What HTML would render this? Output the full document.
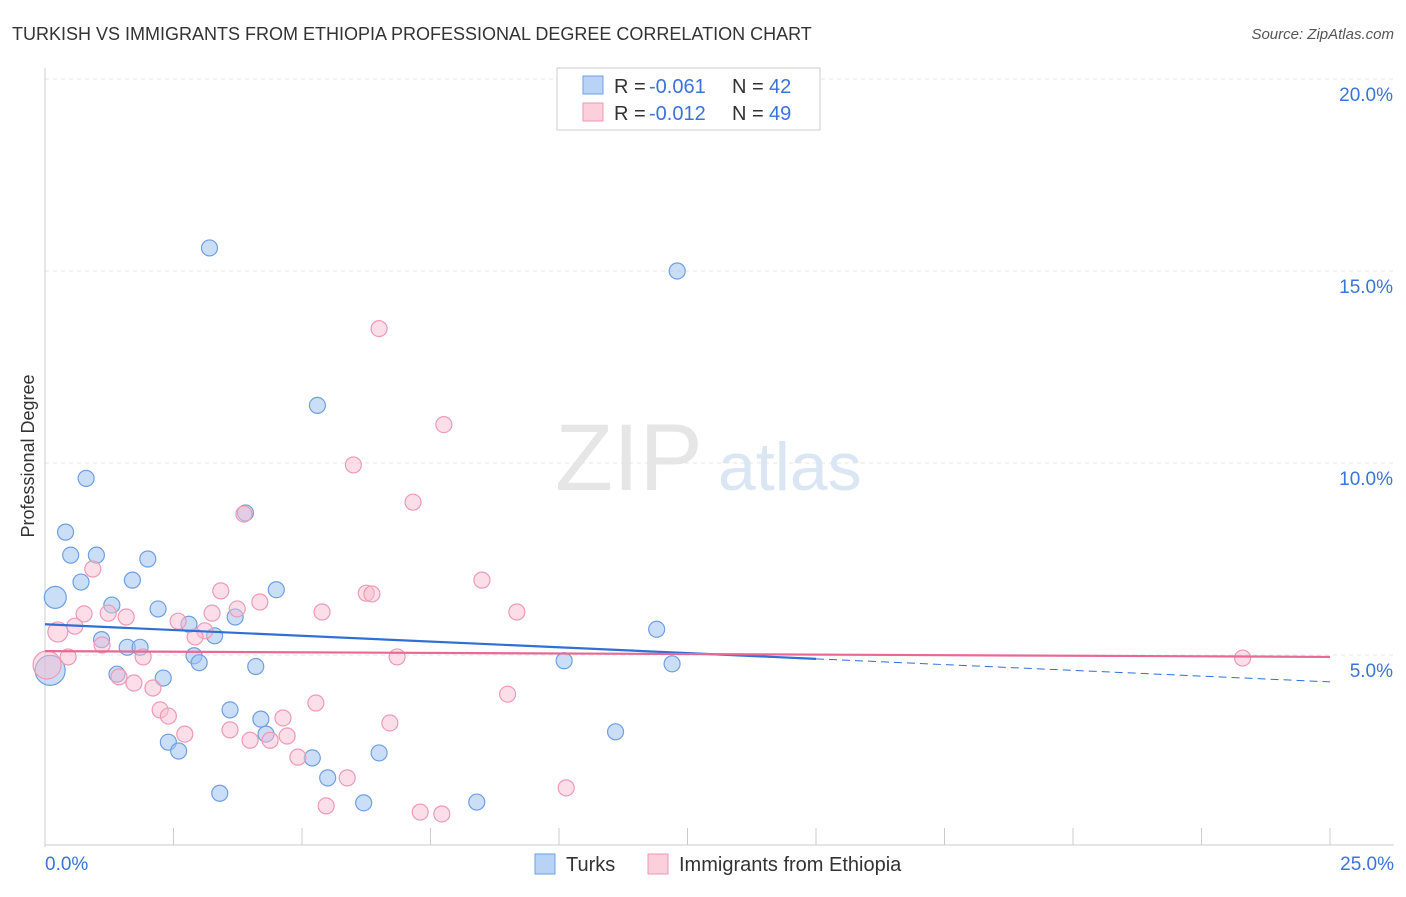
<!DOCTYPE html>
<html><head><meta charset="utf-8"><style>
body{margin:0;background:#fff;font-family:"Liberation Sans",sans-serif}
svg text{font-family:"Liberation Sans",sans-serif}
</style></head><body>
<svg id="c" width="1406" height="892">
<text x="12" y="40" font-size="18" fill="#333">TURKISH VS IMMIGRANTS FROM ETHIOPIA PROFESSIONAL DEGREE CORRELATION CHART</text>
<text x="1394" y="39" font-size="15" fill="#555" text-anchor="end" font-style="italic">Source: ZipAtlas.com</text>
<text x="34" y="456" font-size="18" fill="#333" text-anchor="middle" transform="rotate(-90 34 456)">Professional Degree</text>
<text x="555" y="490" font-size="95" fill="#e6e6e6" font-family="Liberation Serif">ZIP</text>
<text x="718" y="490" font-size="68" fill="#dbe6f5">atlas</text>
<g id="grid"></g><g id="pts"></g><g id="lines"></g>
<g>
<rect x="557" y="68" width="263" height="62" fill="#fff" stroke="#ccc"/>
<rect x="583" y="76" width="20" height="18" fill="#b9d3f7" stroke="#6f9fe0"/>
<rect x="583" y="103" width="20" height="18" fill="#fbcfdc" stroke="#ee9ab5"/>
<text x="614" y="93" font-size="20" fill="#333">R =</text>
<text x="649" y="93" font-size="20" fill="#3a74d6">-0.061</text>
<text x="732" y="93" font-size="20" fill="#333">N =</text>
<text x="769" y="93" font-size="20" fill="#3a74d6">42</text>
<text x="614" y="120" font-size="20" fill="#333">R =</text>
<text x="649" y="120" font-size="20" fill="#3a74d6">-0.012</text>
<text x="732" y="120" font-size="20" fill="#333">N =</text>
<text x="769" y="120" font-size="20" fill="#3a74d6">49</text>
</g>
<g>
<rect x="535" y="854" width="20" height="20" fill="#b9d3f7" stroke="#6f9fe0"/>
<text x="566" y="871" font-size="20" fill="#333">Turks</text>
<rect x="648" y="854" width="20" height="20" fill="#fbcfdc" stroke="#ee9ab5"/>
<text x="679" y="871" font-size="20" fill="#333">Immigrants from Ethiopia</text>
</g>
</svg>
<script>
const yTicks=[5,10,15,20];
const yTickLabels=["5.0%","10.0%","15.0%","20.0%"];
const xTicks=[0,2.5,5,7.5,10,12.5,15,17.5,20,22.5,25];
const turksX=[3.2,12.3,5.3,0.8,3.9,0.4,0.5,1.0,2.0,0.7,1.7,0.2,4.5,1.3,2.2,3.7,2.8,3.3,1.1,1.6,1.85,2.9,3.0,4.1,1.4,2.3,0.1,11.9,10.1,12.2,3.6,4.2,4.3,2.4,2.6,5.2,6.5,5.5,11.1,3.4,6.2,8.4];
const turksY=[15.6,15.0,11.5,9.6,8.7,8.2,7.6,7.6,7.5,6.9,6.95,6.5,6.7,6.3,6.2,5.99,5.8,5.5,5.4,5.2,5.2,4.98,4.8,4.7,4.5,4.4,4.6,5.67,4.85,4.77,3.57,3.33,2.94,2.73,2.5,2.32,2.45,1.8,3.0,1.4,1.15,1.17];
const turksR=[8,8,8,8,8,8,8,8,8,8,8,11,8,8,8,8,8,8,8,8,8,8,8,8,8,8,15,8,8,8,8,8,8,8,8,8,8,8,8,8,8,8];
const ethX=[6.5,7.76,6.0,7.16,3.87,0.93,8.5,3.42,6.25,6.36,4.18,0.76,1.23,1.58,3.25,3.74,5.39,9.18,2.59,0.58,0.25,3.11,2.92,1.11,0.45,1.91,6.85,23.3,1.44,1.73,2.1,9.0,5.27,2.24,2.4,4.63,6.71,3.6,2.72,4.71,3.99,4.38,4.92,5.88,10.14,5.47,7.3,7.72,0.04];
const ethY=[13.5,11.0,9.95,8.98,8.67,7.24,6.95,6.67,6.61,6.59,6.38,6.07,6.09,5.99,6.09,6.2,6.12,6.12,5.88,5.75,5.6,5.63,5.47,5.26,4.95,4.95,4.95,4.92,4.43,4.27,4.14,3.98,3.75,3.57,3.41,3.36,3.23,3.05,2.94,2.89,2.78,2.78,2.34,1.8,1.54,1.07,0.91,0.86,4.74];
const ethR=[8,8,8,8,8,8,8,8,8,8,8,8,8,8,8,8,8,8,8,8,10,8,8,8,8,8,8,8,8,8,8,8,8,8,8,8,8,8,8,8,8,8,8,8,8,8,8,8,14];
const turkTrend=[5.8,4.3];
const ethTrend=[5.1,4.95];
const X=v=>45+v*51.4, Y=v=>847-v*38.4;
const NS="http://www.w3.org/2000/svg";
function mk(t,a,p){const e=document.createElementNS(NS,t);for(const k in a)e.setAttribute(k,a[k]);p.appendChild(e);return e;}
const g=document.getElementById('grid');
const topLine=mk('line',{x1:45,x2:1394,y1:79,y2:79,stroke:'#ddd','stroke-dasharray':'4,4'},g);


yTicks.forEach((t,i)=>{const l=mk('line',{x1:45,x2:1394,y1:Y(t),y2:Y(t),stroke:'#e4e4e4','stroke-dasharray':'4,4'},g);


const tx=mk('text',{x:1393,y:Y(t)+22,'font-size':19,fill:'#3a74d6','text-anchor':'end'},g);tx.textContent=yTickLabels[i];

});
mk('line',{x1:45,x2:45,y1:68,y2:847,stroke:'#ccc'},g);
mk('line',{x1:45,x2:1394,y1:845,y2:845,stroke:'#ccc'},g);
xTicks.forEach(t=>{const l=mk('line',{x1:X(t),x2:X(t),y1:828,y2:845,stroke:'#ccc'},g);

});
let a=mk('text',{x:45,y:870,'font-size':19,fill:'#3a74d6'},g);a.textContent='0.0%';


a=mk('text',{x:1394,y:870,'font-size':19,fill:'#3a74d6','text-anchor':'end'},g);a.textContent='25.0%';


const p=document.getElementById('pts');
turksX.forEach((v,i)=>{const c=mk('circle',{cx:X(v),cy:Y(turksY[i]),r:turksR[i],fill:'rgba(160,195,243,0.55)',stroke:'#6f9fe0','stroke-width':1.2},p);

});
ethX.forEach((v,i)=>{const c=mk('circle',{cx:X(v),cy:Y(ethY[i]),r:ethR[i],fill:'rgba(248,190,208,0.5)',stroke:'#ee9ab5','stroke-width':1.2},p);

});
const L=document.getElementById('lines');
const ty=x=>turkTrend[0]+(turkTrend[1]-turkTrend[0])*x/25;
let l=mk('line',{x1:X(0),y1:Y(ty(0)),x2:X(15),y2:Y(ty(15)),stroke:'#2f6fd6','stroke-width':2.2},L);


l=mk('line',{x1:X(15),y1:Y(ty(15)),x2:X(25),y2:Y(ty(25)),stroke:'#2f6fd6','stroke-width':1,'stroke-dasharray':'8,5'},L);


l=mk('line',{x1:X(0),y1:Y(ethTrend[0]),x2:X(25),y2:Y(ethTrend[1]),stroke:'#e86a94','stroke-width':2.2},L);


</script>
</body></html>
